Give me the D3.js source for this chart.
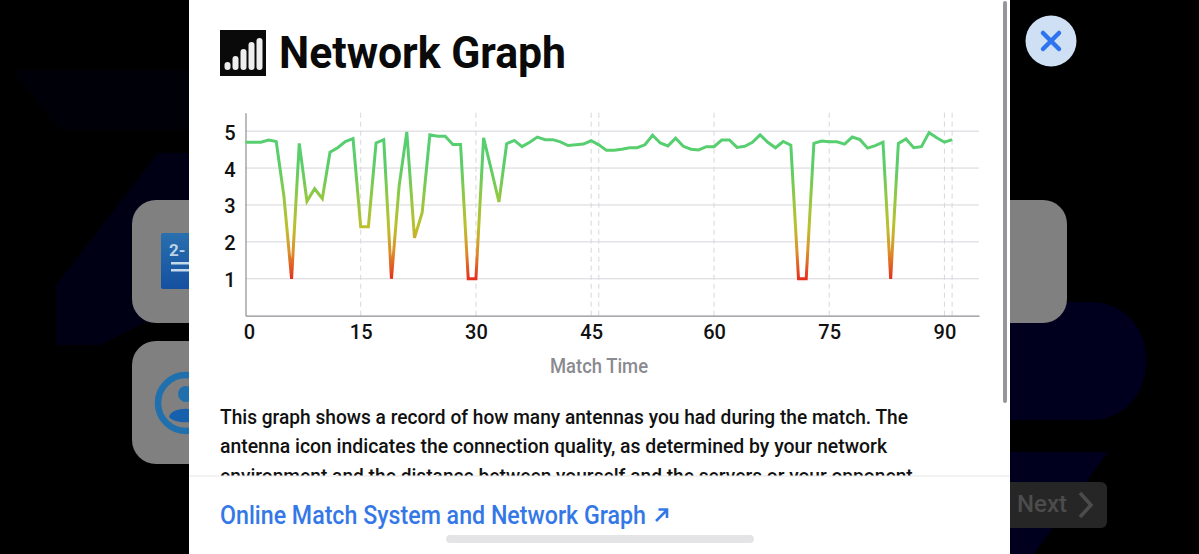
<!DOCTYPE html>
<html>
<head>
<meta charset="utf-8">
<style>
  html, body { margin: 0; padding: 0; background: #000; overflow: hidden; }
  svg { display: block; }
  text { font-family: Roboto, "Noto Sans", sans-serif; }
</style>
<script src="https://cdn.jsdelivr.net/npm/d3@7"></script>
</head>
<body>
<script>
// antenna count per slot; slot 46 is 45+ and slot 92 is 90+
const antennas = [
  4.7, 4.7, 4.7, 4.76, 4.72, 3.24, 1, 4.67, 3.1, 3.44,
  3.17, 4.43, 4.55, 4.72, 4.8, 2.41, 2.41, 4.68, 4.77, 1,
  3.51, 4.98, 2.11, 2.79, 4.9, 4.86, 4.86, 4.64, 4.64, 1,
  1, 4.82, 3.96, 3.08, 4.66, 4.75, 4.58, 4.7, 4.84, 4.77,
  4.77, 4.71, 4.61, 4.63, 4.65, 4.74, 4.63, 4.48, 4.48, 4.51,
  4.55, 4.55, 4.63, 4.89, 4.68, 4.6, 4.81, 4.59, 4.51, 4.49,
  4.58, 4.58, 4.76, 4.76, 4.56, 4.59, 4.7, 4.9, 4.7, 4.55,
  4.72, 4.62, 1, 1, 4.67, 4.73, 4.71, 4.71, 4.65, 4.84,
  4.77, 4.54, 4.61, 4.7, 1, 4.67, 4.79, 4.55, 4.58, 4.96,
  4.82, 4.7, 4.77
];
const xTickSlots = [0, 15, 30, 45, 61, 76, 91];
const xTickLabels = ['0', '15', '30', '45', '60', '75', '90'];
const dashedSlots = [15, 30, 45, 46, 61, 76, 91, 92];
const yTicks = [1, 2, 3, 4, 5];
const bodyLines = [
  'This graph shows a record of how many antennas you had during the match. The',
  'antenna icon indicates the connection quality, as determined by your network',
  'environment and the distance between yourself and the servers or your opponent.'
];

const width = 1199, height = 554;
const svg = d3.select('body').append('svg')
    .attr('width', width)
    .attr('height', height);

const defs = svg.append('defs');

// --- dimmed app behind the dialog
const back = svg.append('g');
back.append('rect').attr('width', width).attr('height', height).attr('fill', '#000');
back.append('path').attr('d', 'M12 70H190V130H60Z').attr('fill', '#000008');
back.append('path').attr('d', 'M158 153H190V300L100 345H56V285Z').attr('fill', '#000014');
back.append('path').attr('d', 'M1010 302H1090C1165 302 1165 420 1090 420H1010Z').attr('fill', '#00001e');
back.append('path').attr('d', 'M1010 452H1108L1034 554H1010Z').attr('fill', '#00001e');
back.append('rect').attr('x', 132).attr('y', 200).attr('width', 935).attr('height', 123).attr('rx', 24).attr('fill', '#808080');
back.append('rect').attr('x', 132).attr('y', 341).attr('width', 200).attr('height', 123).attr('rx', 24).attr('fill', '#808080');

const cardBlue = defs.append('linearGradient').attr('id', 'cardBlue').attr('x1', 0).attr('y1', 0).attr('x2', 0).attr('y2', 1);
cardBlue.append('stop').attr('offset', 0).attr('stop-color', '#2a6fae');
cardBlue.append('stop').attr('offset', 1).attr('stop-color', '#1450a0');
back.append('rect').attr('x', 161).attr('y', 233).attr('width', 60).attr('height', 56).attr('rx', 2).attr('fill', 'url(#cardBlue)');
back.append('text').attr('x', 169).attr('y', 256).attr('font-size', 17).attr('font-weight', 700).attr('fill', '#bcd3e6').text('2-');
back.append('rect').attr('x', 171).attr('y', 262).attr('width', 30).attr('height', 2.5).attr('fill', '#c6d9ea');
back.append('rect').attr('x', 171).attr('y', 269).attr('width', 30).attr('height', 2.5).attr('fill', '#c6d9ea');
back.append('circle').attr('cx', 186).attr('cy', 403).attr('r', 28).attr('fill', 'none').attr('stroke', '#1f70ad').attr('stroke-width', 6.5);
back.append('circle').attr('cx', 186).attr('cy', 394).attr('r', 8).attr('fill', '#1f70ad');
back.append('path').attr('d', 'M169 417C171 406 201 406 203 417C198 424 174 424 169 417Z').attr('fill', '#1660ad');

// next button
back.append('rect').attr('x', 1000).attr('y', 482).attr('width', 107).attr('height', 46).attr('rx', 6).attr('fill', '#262626');
back.append('text').attr('x', 1017).attr('y', 512).attr('font-size', 23).attr('font-weight', 500).attr('fill', '#4c4c4c')
    .attr('textLength', 50).attr('lengthAdjust', 'spacingAndGlyphs').text('Next');
back.append('path').attr('d', 'M1080 493L1091 505L1080 517').attr('fill', 'none').attr('stroke', '#4c4c4c').attr('stroke-width', 3.5);

// close button
back.append('circle').attr('cx', 1051).attr('cy', 41).attr('r', 25.5).attr('fill', '#cfe0f5');
back.append('path').attr('d', 'M1043 33L1059 49M1059 33L1043 49').attr('stroke', '#2f74ee').attr('stroke-width', 4.5).attr('stroke-linecap', 'round');

// --- dialog
const panel = svg.append('g');
panel.append('rect').attr('x', 189).attr('width', 821).attr('height', height).attr('fill', '#fff');

panel.append('rect').attr('x', 220).attr('y', 30).attr('width', 46).attr('height', 46).attr('fill', '#0a0a0a');
[[224.5, 62], [232.5, 56], [240.5, 49], [248.5, 42], [256.5, 38]].forEach(([bx, by]) => {
  panel.append('rect').attr('x', bx).attr('y', by).attr('width', 6).attr('height', 70 - by)
      .attr('rx', 3).attr('fill', '#eeeeee');
});
panel.append('text').attr('x', 279).attr('y', 68).attr('font-size', 44).attr('font-weight', 700).attr('fill', '#0a0a0a')
    .attr('textLength', 287).attr('lengthAdjust', 'spacingAndGlyphs').text('Network Graph');

// --- chart
const x = d3.scaleLinear().domain([0, 95.5]).range([245.5, 979]);
const y = d3.scaleLinear().domain([0, 5.5]).range([315.7, 112.7]);

const chart = svg.append('g');

chart.append('g')
  .selectAll('line')
  .data(yTicks)
  .join('line')
    .attr('x1', x(0)).attr('x2', x(95.5))
    .attr('y1', d => y(d)).attr('y2', d => y(d))
    .attr('stroke', '#d6d6dc').attr('stroke-width', 1);

chart.append('g')
  .selectAll('line')
  .data(dashedSlots)
  .join('line')
    .attr('x1', d => x(d)).attr('x2', d => x(d))
    .attr('y1', y(5.5)).attr('y2', y(0))
    .attr('stroke', '#d6d6dc').attr('stroke-width', 1).attr('stroke-dasharray', '5,4');

const yAxis = chart.append('g')
    .attr('transform', `translate(${x(0)},0)`)
    .call(d3.axisLeft(y).tickValues(yTicks).tickSize(0).tickPadding(10).tickFormat(d3.format('d')));
const xAxis = chart.append('g')
    .attr('transform', `translate(0,${y(0)})`)
    .call(d3.axisBottom(x).tickValues(xTickSlots).tickSize(0).tickPadding(9)
      .tickFormat((d, i) => xTickLabels[i]));

[xAxis, yAxis].forEach(a => {
  a.select('.domain').attr('stroke', '#8f8f95').attr('stroke-width', 1.2);
  a.selectAll('text').attr('font-family', 'Roboto, sans-serif').attr('font-size', 20).attr('font-weight', 500).attr('fill', '#111');
});
xAxis.selectAll('text').filter(d => d === 0).attr('dx', 3.5);
yAxis.selectAll('text').attr('dy', '0.4em');

chart.append('text').attr('x', 599).attr('y', 373).attr('text-anchor', 'middle')
    .attr('font-size', 20).attr('font-weight', 500).attr('fill', '#8a8a90')
    .attr('textLength', 98).attr('lengthAdjust', 'spacingAndGlyphs').text('Match Time');

const lineGrad = defs.append('linearGradient').attr('id', 'lineGrad')
    .attr('gradientUnits', 'userSpaceOnUse')
    .attr('x1', 0).attr('x2', 0).attr('y1', y(5)).attr('y2', y(1));
[[0, '#55cf74'], [0.25, '#5ccd66'], [0.45, '#93c842'], [0.65, '#bcc02e'], [0.82, '#dd8f2b'], [1, '#e5301e']]
  .forEach(([o, c]) => lineGrad.append('stop').attr('offset', o).attr('stop-color', c));

chart.append('path')
    .datum(antennas)
    .attr('fill', 'none')
    .attr('stroke', 'url(#lineGrad)')
    .attr('stroke-width', 3)
    .attr('stroke-linejoin', 'miter')
    .attr('d', d3.line().x((d, i) => x(i)).y(d => y(d)));

// --- body copy, clipped by the footer
defs.append('clipPath').attr('id', 'bodyClip').append('rect').attr('x', 189).attr('y', 390).attr('width', 821).attr('height', 86);
const copyWidths = [688, 667, 698];
panel.append('g').attr('clip-path', 'url(#bodyClip)')
  .selectAll('text')
  .data(bodyLines)
  .join('text')
    .attr('x', 220)
    .attr('y', (d, i) => 424 + i * 29.3)
    .attr('font-size', 20).attr('font-weight', 500).attr('fill', '#111')
    .attr('textLength', (d, i) => copyWidths[i]).attr('lengthAdjust', 'spacingAndGlyphs')
    .text(d => d);

panel.append('line').attr('x1', 189).attr('x2', 1010).attr('y1', 476).attr('y2', 476).attr('stroke', '#e6e6e6');
panel.append('text').attr('x', 220).attr('y', 524).attr('font-size', 25).attr('font-weight', 500).attr('fill', '#3478e8')
    .attr('textLength', 426).attr('lengthAdjust', 'spacingAndGlyphs').text('Online Match System and Network Graph');
panel.append('path').attr('d', 'M656 521L667 510M658.5 509.5H667V518').attr('fill', 'none').attr('stroke', '#3478e8').attr('stroke-width', 2.6);

// scroll bar and home indicator
panel.append('rect').attr('x', 1003).attr('y', 1).attr('width', 4).attr('height', 402).attr('rx', 2).attr('fill', '#97979b');
panel.append('rect').attr('x', 446).attr('y', 535).attr('width', 308).attr('height', 8).attr('rx', 4).attr('fill', '#e4e4e6');
</script>
</body>
</html>
